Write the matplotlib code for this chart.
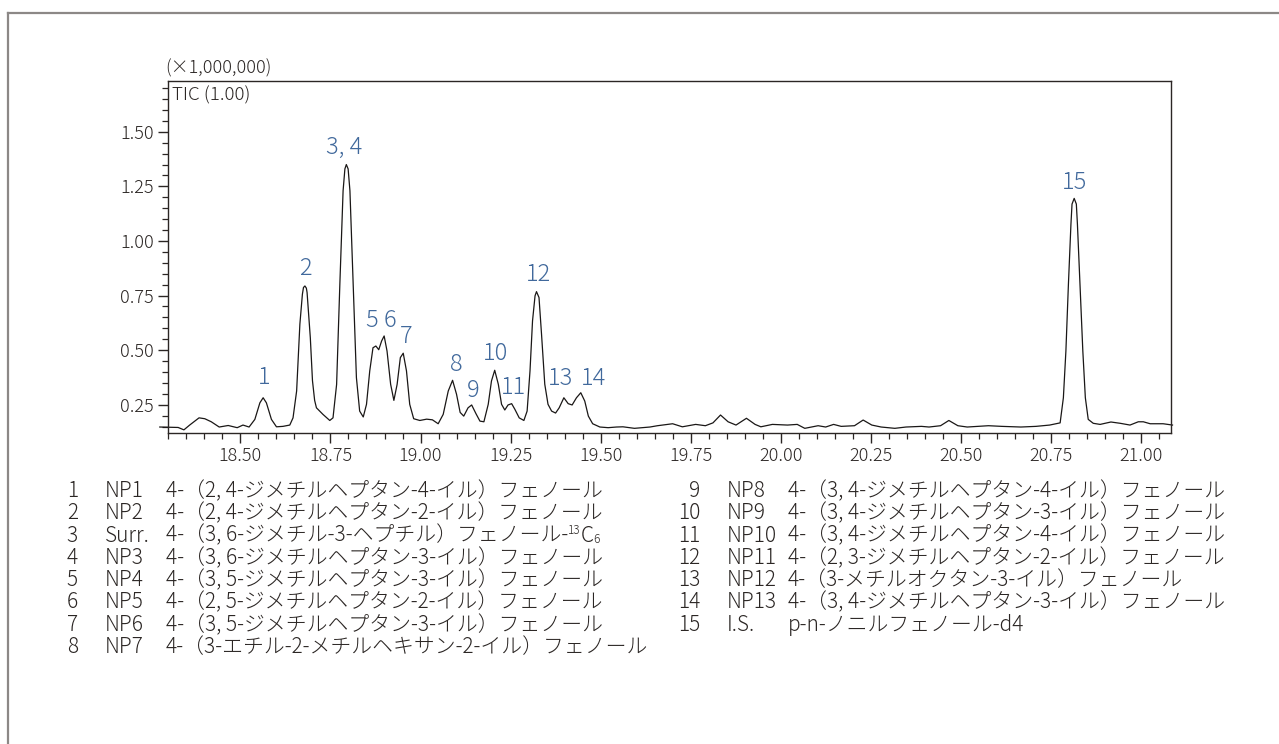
import matplotlib
matplotlib.use('Agg')
import matplotlib.pyplot as plt
from matplotlib.lines import Line2D
from matplotlib.ticker import MultipleLocator, FormatStrFormatter

plt.rcParams['font.family'] = ['Noto Sans CJK JP', 'DejaVu Sans']
plt.rcParams['font.weight'] = 'light'

# retention time (min) and TIC intensity (x1,000,000)
rt = [18.276, 18.297, 18.327, 18.343, 18.359, 18.385, 18.401, 18.419, 18.441,
      18.466, 18.491, 18.507, 18.524, 18.540, 18.554, 18.563, 18.572, 18.586,
      18.600, 18.618, 18.637, 18.646, 18.656, 18.665, 18.672, 18.675, 18.679,
      18.683, 18.685, 18.694, 18.700, 18.706, 18.711, 18.729, 18.748, 18.757,
      18.767, 18.776, 18.785, 18.790, 18.794, 18.799, 18.804, 18.813, 18.822,
      18.831, 18.841, 18.850, 18.859, 18.868, 18.876, 18.884, 18.892, 18.899,
      18.907, 18.917, 18.926, 18.935, 18.944, 18.952, 18.961, 18.970, 18.981,
      18.998, 19.017, 19.033, 19.049, 19.063, 19.077, 19.089, 19.100, 19.110,
      19.120, 19.132, 19.142, 19.154, 19.165, 19.176, 19.188, 19.197, 19.206,
      19.216, 19.225, 19.234, 19.243, 19.253, 19.262, 19.274, 19.287, 19.296,
      19.304, 19.311, 19.318, 19.322, 19.329, 19.336, 19.345, 19.354, 19.364,
      19.375, 19.385, 19.398, 19.410, 19.421, 19.433, 19.445, 19.456, 19.466,
      19.478, 19.498, 19.521, 19.544, 19.562, 19.594, 19.637, 19.658, 19.700,
      19.727, 19.764, 19.791, 19.812, 19.833, 19.854, 19.876, 19.905, 19.929,
      19.945, 19.977, 20.019, 20.046, 20.067, 20.104, 20.125, 20.147, 20.168,
      20.205, 20.229, 20.253, 20.279, 20.317, 20.348, 20.391, 20.412, 20.444,
      20.467, 20.492, 20.518, 20.550, 20.577, 20.614, 20.667, 20.709, 20.747,
      20.776, 20.785, 20.792, 20.799, 20.806, 20.809, 20.815, 20.821, 20.824,
      20.831, 20.839, 20.846, 20.854, 20.868, 20.887, 20.917, 20.943, 20.970,
      20.993, 21.007, 21.026, 21.062, 21.088]
tic = [0.148, 0.147, 0.146, 0.135, 0.157, 0.190, 0.186, 0.172, 0.148,
       0.155, 0.145, 0.157, 0.148, 0.183, 0.259, 0.282, 0.259, 0.183,
       0.149, 0.151, 0.157, 0.190, 0.313, 0.619, 0.756, 0.787, 0.794,
       0.784, 0.764, 0.557, 0.360, 0.270, 0.236, 0.206, 0.178, 0.190,
       0.343, 0.802, 1.230, 1.330, 1.350, 1.330, 1.230, 0.802, 0.374,
       0.221, 0.194, 0.252, 0.405, 0.511, 0.519, 0.502, 0.542, 0.565,
       0.496, 0.344, 0.270, 0.343, 0.466, 0.486, 0.405, 0.252, 0.186,
       0.178, 0.184, 0.181, 0.163, 0.206, 0.313, 0.362, 0.298, 0.215,
       0.198, 0.236, 0.249, 0.209, 0.175, 0.172, 0.252, 0.359, 0.408,
       0.344, 0.252, 0.226, 0.249, 0.255, 0.229, 0.190, 0.178, 0.221,
       0.405, 0.634, 0.749, 0.768, 0.741, 0.573, 0.344, 0.252, 0.221,
       0.212, 0.236, 0.282, 0.255, 0.249, 0.282, 0.305, 0.267, 0.198,
       0.163, 0.148, 0.145, 0.148, 0.149, 0.142, 0.148, 0.154, 0.163,
       0.149, 0.160, 0.154, 0.167, 0.203, 0.172, 0.157, 0.188, 0.160,
       0.149, 0.160, 0.157, 0.160, 0.142, 0.154, 0.148, 0.160, 0.151,
       0.154, 0.180, 0.157, 0.148, 0.142, 0.148, 0.151, 0.148, 0.154,
       0.178, 0.154, 0.148, 0.151, 0.154, 0.151, 0.148, 0.151, 0.157,
       0.167, 0.282, 0.496, 0.802, 1.077, 1.169, 1.195, 1.169, 1.077,
       0.802, 0.496, 0.282, 0.183, 0.165, 0.160, 0.171, 0.165, 0.157,
       0.172, 0.172, 0.163, 0.163, 0.157]

# peak labels: text, x, y
peak_txt = ['1', '2', '3, 4', '5', '6', '7', '8', '9', '10', '11', '12', '13', '14', '15']
peak_x = [18.566, 18.681, 18.789, 18.865, 18.916, 18.959, 19.099, 19.145,
          19.209, 19.257, 19.327, 19.388, 19.479, 20.816]
peak_y = [0.377, 0.874, 1.428, 0.637, 0.637, 0.562, 0.433, 0.317,
          0.486, 0.328, 0.845, 0.371, 0.371, 1.266]

# compound table
num_left = ['1', '2', '3', '4', '5', '6', '7', '8']
code_left = ['NP1', 'NP2', 'Surr.', 'NP3', 'NP4', 'NP5', 'NP6', 'NP7']
name_left = ['4-（2, 4-ジメチルヘプタン-4-イル）フェノール',
             '4-（2, 4-ジメチルヘプタン-2-イル）フェノール',
             '4-（3, 6-ジメチル-3-ヘプチル）フェノール-',
             '4-（3, 6-ジメチルヘプタン-3-イル）フェノール',
             '4-（3, 5-ジメチルヘプタン-3-イル）フェノール',
             '4-（2, 5-ジメチルヘプタン-2-イル）フェノール',
             '4-（3, 5-ジメチルヘプタン-3-イル）フェノール',
             '4-（3-エチル-2-メチルヘキサン-2-イル）フェノール']
num_right = ['9', '10', '11', '12', '13', '14', '15']
code_right = ['NP8', 'NP9', 'NP10', 'NP11', 'NP12', 'NP13', 'I.S.']
name_right = ['4-（3, 4-ジメチルヘプタン-4-イル）フェノール',
              '4-（3, 4-ジメチルヘプタン-3-イル）フェノール',
              '4-（3, 4-ジメチルヘプタン-4-イル）フェノール',
              '4-（2, 3-ジメチルヘプタン-2-イル）フェノール',
              '4-（3-メチルオクタン-3-イル）フェノール',
              '4-（3, 4-ジメチルヘプタン-3-イル）フェノール',
              'p-n-ノニルフェノール-d4']

ink = '#2b2624'
blue = '#41699c'
W, H = 1279, 744

fig = plt.figure(figsize=(12.79, 7.44), dpi=100)
ax = fig.add_axes([167.7 / W, 1 - 432.7 / H, 1003.0 / W, 352.0 / H])

ax.plot(rt, tic, color='#1a1716', linewidth=0.9, clip_on=False)

for t, x, y in zip(peak_txt, peak_x, peak_y):
    ax.text(x, y, t, color=blue, fontsize=17, ha='center', va='center')

ax.set_xlim(18.298, 21.083)
ax.set_ylim(0.122, 1.734)
ax.xaxis.set_major_locator(MultipleLocator(0.25))
ax.xaxis.set_minor_locator(MultipleLocator(0.05))
ax.yaxis.set_major_locator(MultipleLocator(0.25))
ax.yaxis.set_minor_locator(MultipleLocator(0.05))
ax.xaxis.set_major_formatter(FormatStrFormatter('%.2f'))
ax.yaxis.set_major_formatter(FormatStrFormatter('%.2f'))
ax.tick_params(which='major', direction='out', length=7, width=1.0,
               color=ink, labelcolor=ink, labelsize=13, pad=3)
ax.tick_params(which='minor', direction='out', length=4, width=0.9, color=ink)
for s in ax.spines.values():
    s.set_color(ink)
    s.set_linewidth(1.0)

ax.text(0.004, 0.985, 'TIC (1.00)', transform=ax.transAxes, ha='left', va='top',
        fontsize=13.5, color=ink)
fig.text(165 / W, 1 - 68 / H, '(×1,000,000)', ha='left', va='center',
         fontsize=13, color=ink)

# compound table under the chromatogram
fs = 15
row0, dy = 491, 22.3
renderer = fig.canvas.get_renderer()
for i in range(len(num_left)):
    yy = 1 - (row0 + i * dy) / H
    fig.text(78 / W, yy, num_left[i], ha='right', va='center', fontsize=fs, color=ink)
    fig.text(105 / W, yy, code_left[i], ha='left', va='center', fontsize=fs, color=ink)
    t = fig.text(166 / W, yy, name_left[i], ha='left', va='center', fontsize=fs, color=ink)
    if code_left[i] == 'Surr.':
        # isotope tag: small 13 raised, C, small 6 lowered
        x0 = t.get_window_extent(renderer).x1
        s1 = fig.text(x0 / W, yy + 5 / H, '13', ha='left', va='center', fontsize=8.5, color=ink)
        x1 = s1.get_window_extent(renderer).x1
        s2 = fig.text(x1 / W, yy, 'C', ha='left', va='center', fontsize=fs, color=ink)
        x2 = s2.get_window_extent(renderer).x1
        fig.text(x2 / W, yy - 4 / H, '6', ha='left', va='center', fontsize=8.5, color=ink)
for i in range(len(num_right)):
    yy = 1 - (row0 + i * dy) / H
    fig.text(700 / W, yy, num_right[i], ha='right', va='center', fontsize=fs, color=ink)
    fig.text(727 / W, yy, code_right[i], ha='left', va='center', fontsize=fs, color=ink)
    fig.text(788 / W, yy, name_right[i], ha='left', va='center', fontsize=fs, color=ink)

# gray frame (left and top edges only are inside the picture)
frame = '#8c8886'
fig.add_artist(Line2D([8 / W, 8 / W], [0, 1 - 13 / H], color=frame, linewidth=1.6))
fig.add_artist(Line2D([8 / W, 1], [1 - 13 / H, 1 - 13 / H], color=frame, linewidth=1.6))

fig.savefig('out.png', dpi=100)
